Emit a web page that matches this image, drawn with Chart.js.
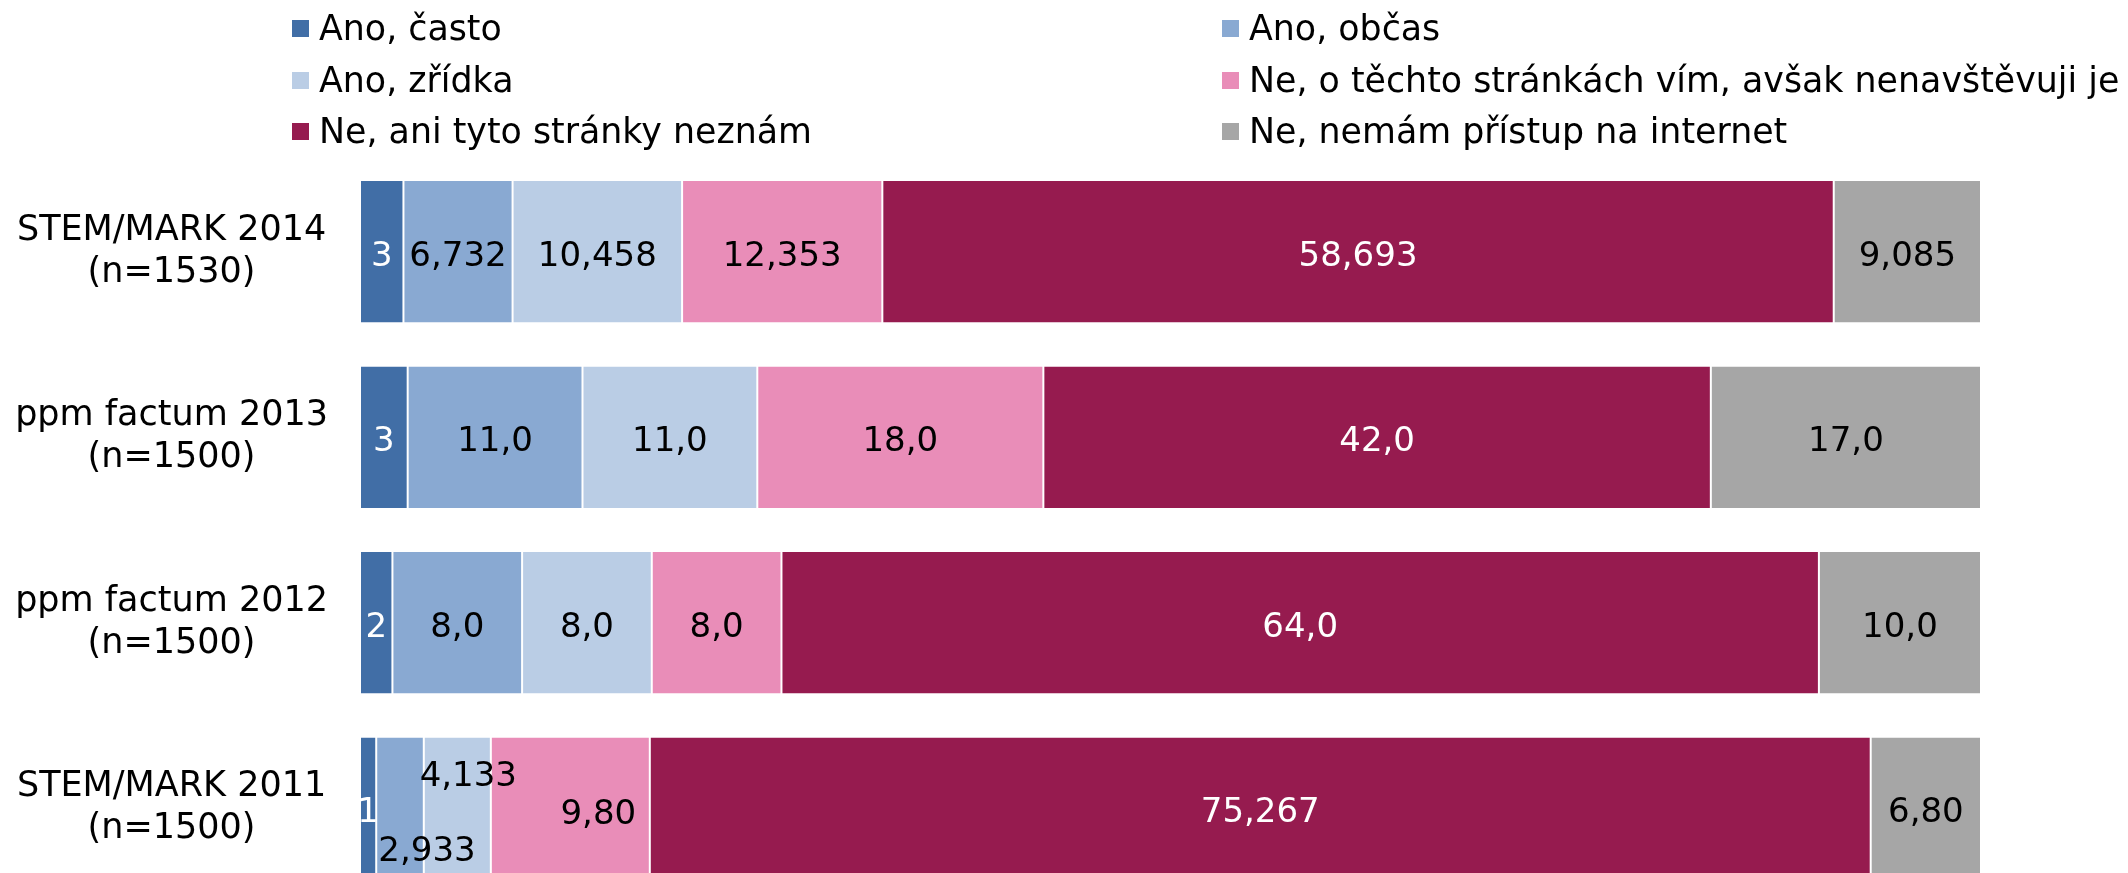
<!DOCTYPE html>
<html>
<head>
<meta charset="utf-8">
<script src="https://cdn.jsdelivr.net/npm/chart.js@4/dist/chart.umd.min.js"></script>
<style>
    body { margin: 0; overflow: hidden; background: #fff; font-family: "DejaVu Sans", Verdana, sans-serif; }
    #wrap { position: relative; width: 2128px; height: 873px; overflow: hidden; }
    #chart { position: absolute; left: 0; top: 0; }
    .leg { position: absolute; display: flex; align-items: center; font-size: 34.8px; line-height: 40px; color: #000; white-space: nowrap; }
    .leg span.box { display: inline-block; width: 17px; height: 17px; margin-right: 10px; }
</style>
</head>
<body>
<div id="wrap">
    <canvas id="chart" width="2128" height="901"></canvas>
    <div id="legend"></div>
</div>
<script>
// categories (top to bottom)
const categories = [
    ['STEM/MARK 2014', '(n=1530)'],
    ['ppm factum 2013', '(n=1500)'],
    ['ppm factum 2012', '(n=1500)'],
    ['STEM/MARK 2011', '(n=1500)']
];

const seriesNames = [
    'Ano, často',
    'Ano, občas',
    'Ano, zřídka',
    'Ne, o těchto stránkách vím, avšak nenavštěvuji je',
    'Ne, ani tyto stránky neznám',
    'Ne, nemám přístup na internet'
];

// values per series (one per category)
const anoCasto   = [2.68, 3, 2, 1];
const anoObcas   = [6.732, 11, 8, 2.933];
const anoZridka  = [10.458, 11, 8, 4.133];
const neVim      = [12.353, 18, 8, 9.8];
const neNeznam   = [58.693, 42, 64, 75.267];
const neInternet = [9.085, 17, 10, 6.8];

// labels as printed on the bars
const anoCastoText   = ['3', '3', '2', '1'];
const anoObcasText   = ['6,732', '11,0', '8,0', '2,933'];
const anoZridkaText  = ['10,458', '11,0', '8,0', '4,133'];
const neVimText      = ['12,353', '18,0', '8,0', '9,80'];
const neNeznamText   = ['58,693', '42,0', '64,0', '75,267'];
const neInternetText = ['9,085', '17,0', '10,0', '6,80'];

const colors = ['#416EA6', '#89A9D2', '#BACDE5', '#E98DB8', '#961B4F', '#A6A6A6'];
const labelColors = ['#fff', '#000', '#000', '#000', '#fff', '#000'];

// overlapping labels moved the way the original does it: [series, category, dx, dy]
const labelNudges = [
    [1, 3, 27, 39],
    [2, 3, 11, -36],
    [3, 3, 28, 2]
];

const allValues = [anoCasto, anoObcas, anoZridka, neVim, neNeznam, neInternet];
const allTexts = [anoCastoText, anoObcasText, anoZridkaText, neVimText, neNeznamText, neInternetText];

// 100% stacked: share of each row total
const rowTotals = categories.map((c, i) => allValues.reduce((s, arr) => s + arr[i], 0));

const datasets = allValues.map((vals, k) => ({
    label: seriesNames[k],
    data: vals.map((v, i) => v / rowTotals[i] * 100),
    texts: allTexts[k],
    backgroundColor: colors[k],
    borderColor: '#fff',
    borderWidth: { left: 1, right: 1, top: 0, bottom: 0 },
    borderSkipped: false,
    barPercentage: 0.763,
    categoryPercentage: 1
}));

const barLabels = {
    id: 'barLabels',
    afterDatasetsDraw(chart) {
        const ctx = chart.ctx;
        ctx.save();
        ctx.font = '34px "DejaVu Sans"';
        ctx.textAlign = 'center';
        ctx.textBaseline = 'middle';
        chart.data.datasets.forEach((ds, k) => {
            const meta = chart.getDatasetMeta(k);
            meta.data.forEach((bar, i) => {
                let x = (bar.x + bar.base) / 2;
                let y = bar.y + 5;
                labelNudges.forEach(n => {
                    if (n[0] === k && n[1] === i) { x += n[2]; y += n[3]; }
                });
                ctx.fillStyle = labelColors[k];
                ctx.fillText(ds.texts[i], x, y);
            });
        });
        ctx.restore();
    }
};

new Chart(document.getElementById('chart'), {
    type: 'bar',
    data: { labels: categories, datasets: datasets },
    options: {
        indexAxis: 'y',
        responsive: false,
        animation: false,
        layout: { padding: { top: 159, right: 147, bottom: 0, left: 0 } },
        scales: {
            x: { stacked: true, min: 0, max: 100, display: false },
            y: {
                stacked: true,
                grid: { display: false, drawTicks: false },
                border: { display: false },
                ticks: {
                    crossAlign: 'center',
                    padding: 32,
                    color: '#000',
                    font: { family: 'DejaVu Sans', size: 35, lineHeight: 1.2 }
                },
                afterFit(scale) {
                    scale.width = 360;
                    scale.paddingTop = 0;
                    scale.paddingBottom = 0;
                }
            }
        },
        plugins: {
            legend: { display: false },
            tooltip: { enabled: false }
        }
    },
    plugins: [barLabels]
});

// legend, two columns of three rows
const legendPos = [[292, 8], [1222, 8], [292, 60], [1222, 60], [292, 111], [1222, 111]];
const legendEl = document.getElementById('legend');
datasets.forEach((ds, k) => {
    const item = document.createElement('div');
    item.className = 'leg';
    item.style.left = legendPos[k][0] + 'px';
    item.style.top = legendPos[k][1] + 'px';
    const box = document.createElement('span');
    box.className = 'box';
    box.style.background = ds.backgroundColor;
    item.appendChild(box);
    item.appendChild(document.createTextNode(ds.label));
    legendEl.appendChild(item);
});
</script>
</body>
</html>
